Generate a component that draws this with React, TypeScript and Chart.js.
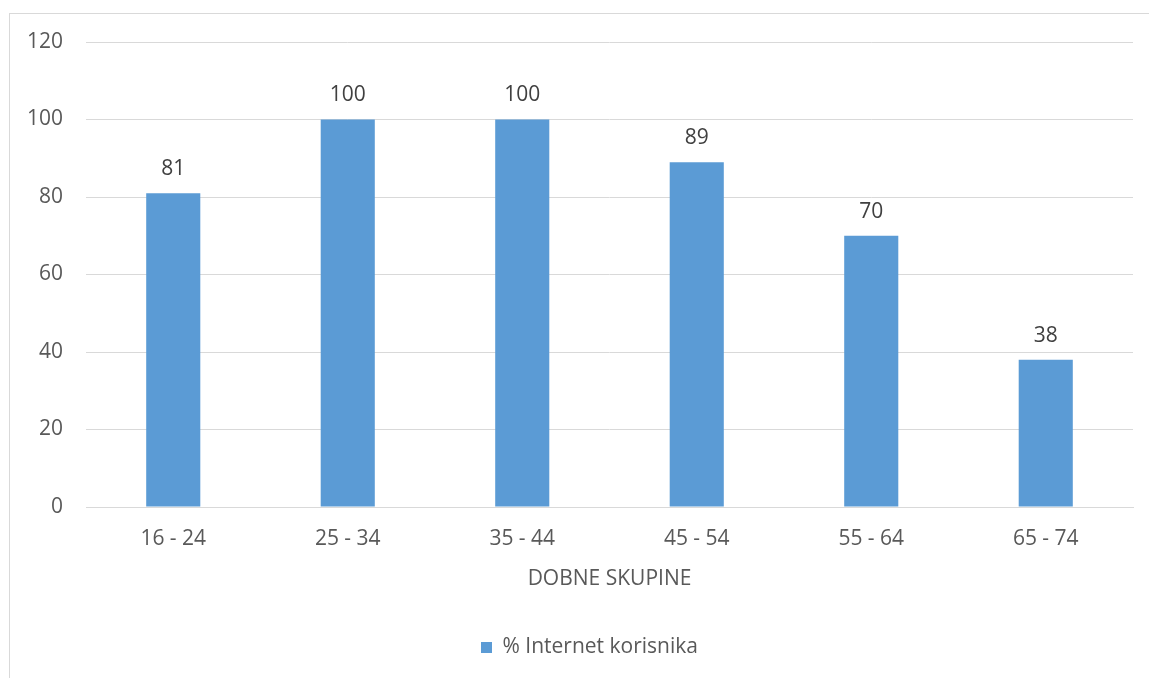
import React, { useEffect, useRef } from "react";
import { Chart, registerables } from "chart.js";

Chart.register(...registerables);

const categories = ["16 - 24", "25 - 34", "35 - 44", "45 - 54", "55 - 64", "65 - 74"];
const values = [81, 100, 100, 89, 70, 38];
const seriesLabel = "% Internet korisnika";
const axisTitle = "DOBNE SKUPINE";

const FONT = "'Open Sans', sans-serif";
const FS = 21;

const valueLabels = {
  id: "valueLabels",
  afterDatasetsDraw(chart: any) {
    const ctx = chart.ctx;
    const meta = chart.getDatasetMeta(0);
    ctx.save();
    ctx.font = `${FS}px ${FONT}`;
    ctx.fillStyle = "#404040";
    ctx.textAlign = "center";
    ctx.textBaseline = "middle";
    meta.data.forEach((bar: any, i: number) => {
      ctx.fillText(String(chart.data.datasets[0].data[i]), bar.x, bar.y - 24);
    });
    ctx.restore();
  },
};

const legendShift = {
  id: "legendShift",
  afterLayout(chart: any) {
    if (chart.legend) chart.legend.left = 46;
  },
};

export default function App() {
  const ref = useRef<HTMLCanvasElement>(null);
  useEffect(() => {
    if (!ref.current) return;
    const chart = new Chart(ref.current, {
      type: "bar",
      data: {
        labels: categories,
        datasets: [
          {
            label: seriesLabel,
            data: values,
            backgroundColor: "#5B9BD5",
            categoryPercentage: 1,
            barPercentage: 0.31,
          },
        ],
      },
      options: {
        animation: false,
        responsive: false,
        maintainAspectRatio: false,
        layout: { padding: { top: 42, right: 16, left: 0, bottom: 10 } },
        plugins: {
          tooltip: { enabled: false },
          legend: {
            position: "bottom",
            labels: {
              font: { family: FONT, size: FS },
              color: "#595959",
              boxWidth: 11,
              boxHeight: 11,
              padding: 10,
            },
          },
        },
        scales: {
          x: {
            grid: { display: false, drawTicks: false },
            border: { display: true, color: "#d9d9d9", width: 1 },
            ticks: { font: { family: FONT, size: FS }, color: "#595959", padding: 19 },
            title: {
              display: true,
              text: axisTitle,
              font: { family: FONT, size: FS },
              color: "#595959",
              padding: { top: 10, bottom: 35 },
            },
            afterFit: (s: any) => {
              s.height = 120;
            },
          },
          y: {
            min: 0,
            max: 120,
            ticks: { stepSize: 20, font: { family: FONT, size: FS }, color: "#595959", padding: 23 },
            grid: { color: "#d9d9d9", drawTicks: false, lineWidth: 1 },
            border: { display: false },
            afterFit: (s: any) => {
              s.width = 86;
            },
          },
        },
      },
      plugins: [valueLabels, legendShift],
    });
    return () => chart.destroy();
  }, []);
  return (
    <div style={{ position: "absolute", left: 0, top: 0, width: 1149, height: 678, overflow: "hidden", background: "#fff" }}>
      <div
        style={{
          position: "absolute",
          left: 9,
          top: 13,
          width: 1200,
          height: 720,
          border: "1px solid #d9d9d9",
          boxSizing: "border-box",
        }}
      />
      <canvas ref={ref} width={1149} height={678} style={{ position: "absolute", left: 0, top: 0 }} />
    </div>
  );
}
